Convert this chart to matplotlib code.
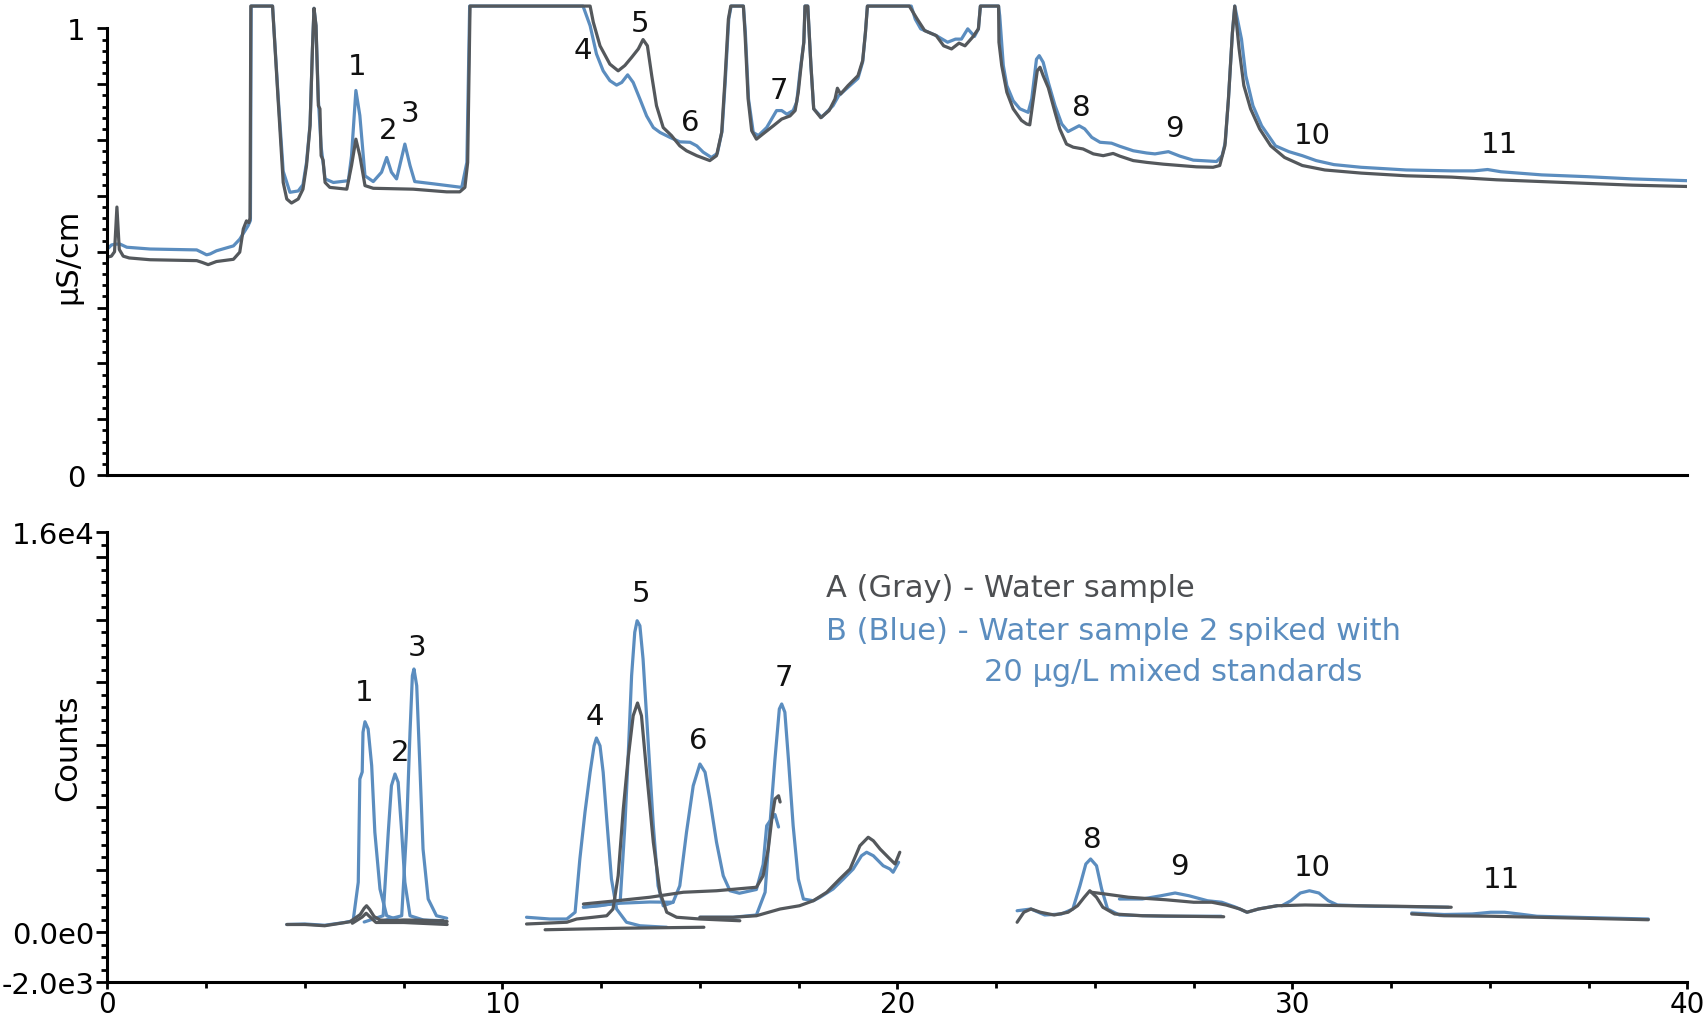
import numpy as np
import matplotlib
matplotlib.use("Agg")
import matplotlib.pyplot as plt
from matplotlib.ticker import MultipleLocator, FixedLocator

# colours of the two runs
GRAY = '#54585c'
BLUE = '#5b8dbf'

# ---- conductivity trace (uS/cm), retention time in min ----
cd_a_x = [0.00, 0.10, 0.18, 0.24, 0.30, 0.40, 0.55, 1.08, 2.26, 2.40, 2.55, 2.76, 3.19, 3.35, 3.44, 3.52,
          3.58, 3.61, 3.63, 4.18, 4.32, 4.45, 4.54, 4.66, 4.83, 4.95, 5.04, 5.13, 5.19, 5.23, 5.28, 5.34,
          5.38, 5.41, 5.46, 5.51, 5.63, 6.06, 6.18, 6.29, 6.39, 6.52, 6.73, 7.74, 8.59, 8.92, 9.05, 9.12,
          9.18, 12.22, 12.30, 12.47, 12.72, 12.93, 13.10, 13.27, 13.44, 13.56, 13.67, 13.78, 13.90, 14.07,
          14.28, 14.49, 14.66, 14.92, 15.25, 15.42, 15.55, 15.63, 15.72, 15.78, 16.10, 16.14, 16.22, 16.31,
          16.43, 16.60, 16.86, 17.07, 17.28, 17.41, 17.49, 17.57, 17.63, 17.66, 17.73, 17.81, 17.88, 18.06,
          18.27, 18.42, 18.48, 18.56, 18.75, 19.00, 19.12, 19.19, 19.24, 20.30, 20.50, 20.69, 20.98, 21.17,
          21.37, 21.56, 21.71, 21.90, 22.05, 22.10, 22.56, 22.57, 22.64, 22.77, 22.93, 23.14, 23.27, 23.35,
          23.44, 23.54, 23.61, 23.69, 23.82, 23.99, 24.11, 24.28, 24.45, 24.70, 24.96, 25.21, 25.46, 25.63,
          25.97, 26.31, 26.73, 27.15, 27.57, 27.99, 28.16, 28.29, 28.38, 28.48, 28.54, 28.65, 28.77, 28.94,
          29.17, 29.45, 29.80, 30.25, 30.82, 31.74, 32.88, 34.03, 35.17, 36.31, 37.46, 38.60, 40.00]
cd_a_y = [0.488, 0.490, 0.500, 0.600, 0.505, 0.490, 0.486, 0.482, 0.480, 0.476, 0.471, 0.478, 0.483, 0.499,
          0.551, 0.569, 0.565, 0.575, 1.05, 1.05, 0.842, 0.655, 0.618, 0.609, 0.618, 0.640, 0.693, 0.782,
          0.954, 1.045, 1.006, 0.827, 0.820, 0.715, 0.705, 0.655, 0.644, 0.640, 0.693, 0.752, 0.715, 0.648,
          0.642, 0.640, 0.634, 0.634, 0.644, 0.700, 1.05, 1.05, 1.014, 0.961, 0.920, 0.905, 0.917, 0.935,
          0.954, 0.975, 0.961, 0.894, 0.827, 0.778, 0.760, 0.737, 0.726, 0.715, 0.704, 0.715, 0.767, 0.879,
          1.021, 1.05, 1.05, 0.991, 0.842, 0.771, 0.752, 0.764, 0.782, 0.797, 0.804, 0.816, 0.857, 0.924,
          0.969, 1.05, 1.05, 0.917, 0.820, 0.800, 0.816, 0.842, 0.866, 0.853, 0.872, 0.894, 0.928, 0.991,
          1.05, 1.05, 1.021, 0.995, 0.984, 0.961, 0.954, 0.967, 0.961, 0.980, 0.999, 1.05, 1.05, 0.969,
          0.917, 0.857, 0.820, 0.794, 0.786, 0.784, 0.842, 0.905, 0.913, 0.894, 0.867, 0.812, 0.775, 0.741,
          0.734, 0.730, 0.719, 0.715, 0.720, 0.714, 0.704, 0.700, 0.696, 0.693, 0.690, 0.689, 0.693, 0.737,
          0.842, 0.990, 1.05, 0.954, 0.872, 0.820, 0.775, 0.737, 0.711, 0.693, 0.683, 0.676, 0.670, 0.667,
          0.661, 0.657, 0.653, 0.649, 0.646]

cd_b_x = [0.00, 0.10, 0.20, 0.32, 0.49, 1.08, 2.26, 2.40, 2.51, 2.60, 2.76, 3.19, 3.35, 3.56, 3.62, 3.64,
          4.18, 4.32, 4.45, 4.62, 4.83, 4.95, 5.04, 5.13, 5.19, 5.23, 5.28, 5.34, 5.41, 5.51, 5.72, 6.10,
          6.18, 6.29, 6.39, 6.52, 6.73, 6.94, 7.07, 7.19, 7.32, 7.53, 7.66, 7.78, 8.25, 8.97, 9.10, 9.17,
          12.04, 12.22, 12.38, 12.55, 12.72, 12.89, 13.02, 13.17, 13.31, 13.48, 13.65, 13.82, 13.99, 14.24,
          14.49, 14.75, 14.92, 15.08, 15.29, 15.44, 15.56, 15.64, 15.73, 15.79, 16.10, 16.15, 16.23, 16.35,
          16.48, 16.69, 16.94, 17.07, 17.20, 17.36, 17.45, 17.53, 17.63, 17.66, 17.73, 17.81, 17.88, 18.08,
          18.37, 18.51, 18.75, 19.00, 19.12, 19.19, 19.24, 20.35, 20.45, 20.59, 20.98, 21.27, 21.47, 21.62,
          21.78, 21.95, 22.05, 22.10, 22.56, 22.59, 22.68, 22.77, 22.93, 23.10, 23.31, 23.40, 23.52, 23.59,
          23.69, 23.82, 23.99, 24.16, 24.32, 24.45, 24.60, 24.74, 24.92, 25.13, 25.42, 25.63, 25.97, 26.31,
          26.52, 26.86, 27.15, 27.49, 28.08, 28.22, 28.30, 28.38, 28.48, 28.54, 28.71, 28.82, 29.00, 29.22,
          29.57, 29.91, 30.25, 30.60, 31.05, 31.74, 32.88, 34.03, 34.60, 34.94, 35.28, 36.31, 37.46, 38.60,
          40.00]
cd_b_y = [0.506, 0.515, 0.517, 0.517, 0.510, 0.506, 0.504, 0.498, 0.493, 0.495, 0.502, 0.513, 0.528, 0.558,
          0.570, 1.05, 1.05, 0.850, 0.680, 0.633, 0.636, 0.650, 0.700, 0.785, 0.954, 1.045, 1.006, 0.840,
          0.735, 0.663, 0.655, 0.659, 0.715, 0.861, 0.805, 0.670, 0.657, 0.678, 0.711, 0.678, 0.663, 0.741,
          0.693, 0.657, 0.652, 0.644, 0.700, 1.05, 1.05, 1.006, 0.943, 0.905, 0.883, 0.873, 0.879, 0.896,
          0.879, 0.842, 0.804, 0.778, 0.767, 0.756, 0.746, 0.745, 0.737, 0.723, 0.711, 0.720, 0.770, 0.880,
          1.021, 1.05, 1.05, 0.991, 0.842, 0.767, 0.760, 0.778, 0.816, 0.816, 0.808, 0.816, 0.835, 0.900,
          0.969, 1.05, 1.05, 0.917, 0.820, 0.801, 0.827, 0.849, 0.868, 0.888, 0.925, 0.991, 1.05, 1.05,
          1.021, 0.999, 0.984, 0.969, 0.976, 0.976, 0.999, 0.982, 0.999, 1.05, 1.05, 1.028, 0.917, 0.872,
          0.838, 0.820, 0.812, 0.842, 0.931, 0.939, 0.924, 0.879, 0.827, 0.786, 0.769, 0.775, 0.782, 0.775,
          0.756, 0.745, 0.743, 0.736, 0.726, 0.721, 0.719, 0.724, 0.714, 0.705, 0.702, 0.715, 0.745, 0.842,
          0.990, 1.05, 0.976, 0.894, 0.827, 0.782, 0.737, 0.724, 0.715, 0.704, 0.695, 0.689, 0.683, 0.681,
          0.681, 0.684, 0.679, 0.672, 0.668, 0.663, 0.659]

# ---- MS extracted ion windows (counts), one list per window ----
ms_a_x = [
    [4.54, 5.00, 5.50, 6.14, 6.40, 6.50, 6.56, 6.64, 6.75, 6.90, 7.30, 8.00, 8.50],
    [6.20, 6.45, 6.55, 6.65, 6.80, 7.50, 8.60],
    [6.90, 7.50, 8.00, 8.60],
    [11.08, 12.00, 13.00, 14.00, 15.10],
    [10.61, 11.63, 11.88, 12.30, 12.64, 12.80, 12.93, 13.06, 13.18, 13.31, 13.42, 13.52, 13.65, 13.82,
     13.99, 14.16, 14.41, 15.00, 16.01],
    [12.05, 12.89, 13.73, 14.58, 15.42, 16.43, 16.60, 16.73, 16.82, 16.90, 16.99, 17.03],
    [15.00, 15.84, 16.43, 17.03, 17.52, 17.87, 18.21, 18.54, 18.80, 19.05, 19.26, 19.39, 19.56, 19.81,
     19.94, 20.06],
    [23.03, 23.20, 23.38, 23.62, 23.97, 24.32, 24.56, 24.73, 24.87, 25.04, 25.20, 25.50, 26.20, 28.26],
    [24.91, 25.26, 25.85, 26.79, 27.50, 27.96, 28.32, 28.67, 28.85, 29.14, 29.61, 30.32, 31.49, 32.67,
     34.02],
    [33.02, 33.84, 35.02, 36.19, 37.37, 39.01],
]
ms_a_y = [
    [300, 300, 250, 410, 700, 950, 1050, 900, 620, 480, 440, 430, 450],
    [350, 600, 750, 600, 380, 380, 300],
    [430, 480, 470, 420],
    [90, 120, 150, 170, 190],
    [320, 390, 520, 590, 650, 920, 2250, 4920, 6920, 8650, 9160, 8650, 6390, 3590, 1590, 790, 590, 520, 450],
    [1120, 1250, 1390, 1590, 1650, 1790, 2250, 3320, 4520, 5320, 5450, 5200],
    [590, 590, 650, 920, 1050, 1250, 1590, 2120, 2520, 3450, 3790, 3650, 3320, 2920, 2720, 3190],
    [390, 790, 920, 790, 680, 790, 1050, 1390, 1650, 1390, 990, 720, 650, 610],
    [1590, 1520, 1390, 1290, 1190, 1190, 1080, 920, 790, 920, 1050, 1080, 1050, 1030, 990],
    [720, 650, 630, 590, 550, 490],
]

ms_b_x = [
    [4.54, 5.00, 5.50, 6.00, 6.22, 6.35, 6.39, 6.45, 6.47, 6.52, 6.60, 6.69, 6.77, 6.90, 7.07, 7.40, 8.00, 8.50],
    [6.50, 6.98, 7.11, 7.19, 7.28, 7.36, 7.45, 7.53, 7.66, 8.00, 8.50],
    [6.90, 7.45, 7.57, 7.66, 7.72, 7.76, 7.83, 7.91, 7.99, 8.12, 8.33, 8.59],
    [10.61, 11.20, 11.63, 11.84, 11.96, 12.09, 12.22, 12.32, 12.38, 12.47, 12.55, 12.64, 12.76, 12.89,
     13.14, 13.48, 14.16],
    [12.05, 12.47, 12.98, 13.10, 13.18, 13.27, 13.35, 13.41, 13.48, 13.56, 13.69, 13.82, 13.94, 14.07, 14.32],
    [12.05, 12.98, 13.73, 14.32, 14.49, 14.66, 14.83, 15.00, 15.13, 15.25, 15.42, 15.59, 15.76, 16.00,
     16.43, 16.60, 16.69, 16.82, 16.90, 16.99],
    [15.00, 15.84, 16.43, 16.65, 16.77, 16.90, 17.01, 17.07, 17.15, 17.24, 17.36, 17.49, 17.62, 17.87,
     18.04, 18.37, 18.63, 18.88, 19.09, 19.22, 19.39, 19.64, 19.81, 19.89, 20.03],
    [23.03, 23.38, 23.73, 24.15, 24.44, 24.62, 24.77, 24.89, 25.04, 25.17, 25.32, 25.62, 26.79, 28.20],
    [25.62, 26.20, 26.67, 27.03, 27.38, 27.85, 28.21, 28.55, 28.85, 29.14, 29.61],
    [29.73, 29.96, 30.20, 30.43, 30.67, 30.91, 31.14, 32.08, 33.95],
    [33.02, 33.84, 34.55, 35.02, 35.37, 35.74, 36.19, 37.37, 39.01],
]
ms_b_y = [
    [300, 320, 270, 380, 450, 1990, 6120, 6400, 7990, 8410, 8120, 6650, 3990, 1720, 650, 450, 420, 400],
    [400, 650, 3990, 5850, 6320, 5990, 3990, 1990, 650, 480, 450],
    [420, 650, 3990, 7990, 10250, 10520, 9850, 6650, 3320, 1320, 650, 550],
    [590, 520, 520, 790, 2920, 4790, 6390, 7450, 7760, 7450, 6390, 4520, 2120, 920, 390, 250, 190],
    [990, 1050, 1190, 4250, 6920, 10250, 11990, 12450, 12250, 10920, 7590, 4250, 1850, 1050, 1190],
    [1000, 1150, 1200, 1190, 1850, 3990, 5850, 6720, 6390, 5320, 3590, 2250, 1650, 1550, 1700, 2700,
     4250, 4550, 4700, 4200],
    [590, 590, 680, 1590, 4250, 6920, 8920, 9120, 8790, 6920, 4250, 2120, 1320, 1250, 1390, 1720, 2120,
     2520, 3050, 3190, 3050, 2650, 2520, 2390, 2790],
    [850, 920, 680, 720, 920, 1850, 2720, 2920, 2650, 1720, 920, 680, 630, 630],
    [1320, 1320, 1450, 1560, 1450, 1250, 1190, 1000, 790, 920, 1050],
    [1050, 1250, 1560, 1650, 1560, 1250, 1080, 1030, 990],
    [760, 700, 720, 790, 790, 720, 630, 580, 520],
]

# peak numbers and where they sit in each panel
peak_ids = ['1', '2', '3', '4', '5', '6', '7', '8', '9', '10', '11']
cd_label_x = [6.32, 7.10, 7.65, 12.03, 13.49, 14.76, 17.00, 24.66, 27.01, 30.51, 35.25]
cd_label_y = [0.915, 0.773, 0.810, 0.951, 1.012, 0.790, 0.863, 0.824, 0.778, 0.761, 0.741]
ms_label_x = [6.49, 7.40, 7.84, 12.34, 13.52, 14.95, 17.13, 24.94, 27.14, 30.51, 35.28]
ms_label_y = [9600, 7210, 11400, 8650, 13570, 7690, 10220, 3720, 2640, 2590, 2110]

plt.rcParams['font.family'] = ['DejaVu Sans']

fig = plt.figure(figsize=(17.08, 10.20), dpi=100)
ax1 = fig.add_axes([0.0629, 1 - 476 / 1020, 0.92506, 473.4 / 1020])
ax2 = fig.add_axes([0.0629, 1 - 983 / 1020, 0.92506, 450 / 1020])

line_kw = dict(lw=2.3, solid_joinstyle='round', solid_capstyle='round')

# top: suppressed conductivity
ax1.plot(cd_b_x, cd_b_y, color=BLUE, **line_kw)
ax1.plot(cd_a_x, cd_a_y, color=GRAY, **line_kw)
ax1.set_xlim(0, 40)
ax1.set_ylim(0, 1.06)
for i in range(len(peak_ids)):
    ax1.text(cd_label_x[i], cd_label_y[i], peak_ids[i], fontsize=21, ha='center', va='center', color='#111111')

# bottom: MS counts, one line per window
for xs, ys in zip(ms_b_x, ms_b_y):
    ax2.plot(xs, ys, color=BLUE, **line_kw)
for xs, ys in zip(ms_a_x, ms_a_y):
    ax2.plot(xs, ys, color=GRAY, **line_kw)
ax2.set_xlim(0, 40)
ax2.set_ylim(-2000, 16000)
for i in range(len(peak_ids)):
    ax2.text(ms_label_x[i], ms_label_y[i], peak_ids[i], fontsize=21, ha='center', va='center', color='#111111')

for ax in (ax1, ax2):
    ax.spines['top'].set_visible(False)
    ax.spines['right'].set_visible(False)
    ax.spines['left'].set_linewidth(2.2)
    ax.spines['bottom'].set_linewidth(2.2)

# axis furniture, top panel
ax1.spines['left'].set_bounds(0, 1)
ax1.set_yticks(np.arange(0, 1.001, 0.125), ['0', '', '', '', '', '', '', '', '1'])
ax1.yaxis.set_minor_locator(FixedLocator(np.arange(0, 1.001, 0.025)))
ax1.tick_params(axis='y', which='major', length=7, width=2, labelsize=21, pad=9)
ax1.tick_params(axis='y', which='minor', length=3.5, width=2)
ax1.tick_params(axis='x', which='both', bottom=False, labelbottom=False)
ax1.set_ylabel('µS/cm', fontsize=22, va='center')
ax1.yaxis.set_label_coords(-0.0253, 0.465)

# axis furniture, bottom panel
ax2.spines['left'].set_bounds(-2000, 16000)
y_major = [-2000, 0, 2500, 5000, 7500, 10000, 12500, 15000, 16000]
y_labels = ['-2.0e3', '0.0e0', '', '', '', '', '', '', '1.6e4']
ax2.set_yticks(y_major, y_labels)
ax2.yaxis.set_minor_locator(MultipleLocator(500))
ax2.tick_params(axis='y', which='major', length=8, width=2, labelsize=21, pad=1.5)
ax2.tick_params(axis='y', which='minor', length=4, width=2)
ax2.set_xticks([0, 10, 20, 30, 40])
ax2.xaxis.set_minor_locator(MultipleLocator(2.5))
ax2.tick_params(axis='x', which='major', length=5, width=2, labelsize=20, pad=1)
ax2.tick_params(axis='x', which='minor', length=4, width=2)
ax2.set_ylabel('Counts', fontsize=22, va='center')
ax2.yaxis.set_label_coords(-0.0253, 0.522)

# sample key
fig.text(826 / 1708, 1 - 589 / 1020, 'A (Gray) - Water sample', fontsize=22, color='#4d4f52', va='center')
fig.text(826 / 1708, 1 - 632 / 1020, 'B (Blue) - Water sample 2 spiked with', fontsize=22, color=BLUE, va='center')
fig.text(984 / 1708, 1 - 673 / 1020, '20 µg/L mixed standards', fontsize=22, color=BLUE, va='center')

fig.savefig('out.png', dpi=100)
